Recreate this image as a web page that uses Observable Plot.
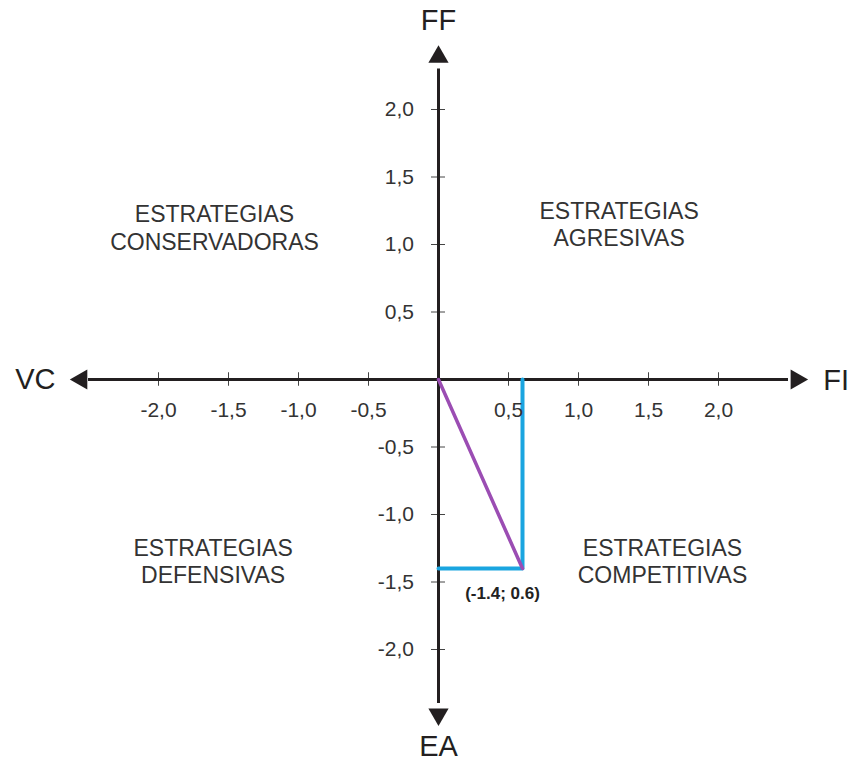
<!DOCTYPE html>
<html>
<head>
<meta charset="utf-8">
<script src="https://cdn.jsdelivr.net/npm/d3@7"></script>
<script src="https://cdn.jsdelivr.net/npm/@observablehq/plot@0.6"></script>
<style>
  html, body { margin: 0; padding: 0; background: #fff; }
  #chart svg { display: block; }
</style>
</head>
<body>
<div id="chart"></div>
<script>
// Data
const xTicks = [-2, -1.5, -1, -0.5, 0.5, 1, 1.5, 2];
const yTicks = [2, 1.5, 1, 0.5, -0.5, -1, -1.5, -2];
const axisNames = [
  {name: "FF", x: 0, y: 2.66},
  {name: "EA", x: 0, y: -2.72},
  {name: "VC", x: -2.88, y: 0},
  {name: "FI", x: 2.84, y: -0.01}
];
const quadrants = [
  {line1: "ESTRATEGIAS", line2: "CONSERVADORAS", x: -1.60, y1: 1.222, y2: 1.015},
  {line1: "ESTRATEGIAS", line2: "AGRESIVAS", x: 1.29, y1: 1.244, y2: 1.04},
  {line1: "ESTRATEGIAS", line2: "DEFENSIVAS", x: -1.61, y1: -1.252, y2: -1.452},
  {line1: "ESTRATEGIAS", line2: "COMPETITIVAS", x: 1.6, y1: -1.252, y2: -1.452}
];
const pointFF = -1.4;   // vertical axis value
const pointFI = 0.6;    // horizontal axis value
const pointLabel = "(-1.4; 0.6)";

const fmt = d => d.toFixed(1).replace(".", ",");
const ink = "#231f20";
const txt = "#333333";

const arrows = [
  {x: 0, y: 2.39, r: 0},
  {x: 0, y: -2.48, r: 180},
  {x: 2.557, y: 0, r: 90},
  {x: -2.55, y: 0, r: -90}
];

const plot = Plot.plot({
  width: 849,
  height: 763,
  margin: 0,
  x: {domain: [-438 / 140, (849 - 438) / 140], axis: null},
  y: {domain: [-(763 - 379) / 135, 379 / 135], axis: null},
  style: {fontFamily: "'Liberation Sans', Arial, sans-serif", background: "#fff"},
  marks: [
    // tick marks
    Plot.ruleX(xTicks, {x: d => d, y1: -0.05, y2: 0.05, stroke: "#444", strokeWidth: 1}),
    Plot.ruleY(yTicks, {y: d => d, x1: -0.05, x2: 0.05, stroke: "#444", strokeWidth: 1}),
    // axes
    Plot.ruleY([0], {x1: -2.5, x2: 2.5, stroke: ink, strokeWidth: 3}),
    Plot.ruleX([0], {y1: -2.4, y2: 2.3, stroke: ink, strokeWidth: 3}),
    // arrowheads
    ...arrows.map(a => Plot.dot([a], {x: "x", y: "y", symbol: "triangle", r: 7.5, fill: ink, stroke: "none", rotate: a.r})),
    // blue guide lines
    Plot.line([{x: pointFI, y: 0}, {x: pointFI, y: pointFF}, {x: 0, y: pointFF}],
      {x: "x", y: "y", stroke: "#1aa5e0", strokeWidth: 4}),
    // purple vector
    Plot.line([{x: 0, y: 0}, {x: pointFI, y: pointFF}],
      {x: "x", y: "y", stroke: "#9b4db3", strokeWidth: 3.5}),
    // tick labels
    Plot.text(xTicks, {x: d => d, y: -0.23, text: fmt, fontSize: 21, fill: txt}),
    Plot.text(yTicks, {x: -0.175, y: d => d, text: fmt, fontSize: 21, fill: txt, textAnchor: "end"}),
    // axis names
    Plot.text(axisNames, {x: "x", y: "y", text: "name", fontSize: 29, fill: ink}),
    // quadrant labels
    Plot.text(quadrants, {x: "x", y: "y1", text: "line1", fontSize: 23, fill: txt, letterSpacing: 0.4}),
    Plot.text(quadrants, {x: "x", y: "y2", text: "line2", fontSize: 23, fill: txt, letterSpacing: 0.4}),
    // point label
    Plot.text([{x: pointFI, y: pointFF}], {x: "x", y: "y", text: () => pointLabel, dx: -20, dy: 25, fontSize: 17, fontWeight: "bold", fill: "#222"})
  ]
});
document.getElementById("chart").appendChild(plot);
</script>
</body>
</html>
